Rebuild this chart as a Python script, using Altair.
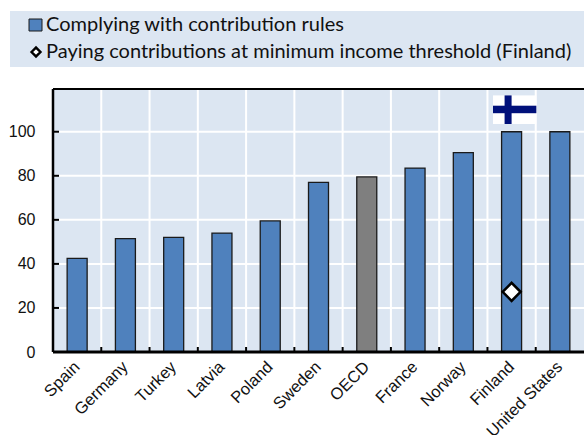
import altair as alt
import pandas as pd

countries = ["Spain", "Germany", "Turkey", "Latvia", "Poland", "Sweden", "OECD",
             "France", "Norway", "Finland", "United States"]
complying = [42.5, 51.5, 52, 54, 59.5, 77, 79.5, 83.5, 90.5, 100, 100]
kinds = ["country"] * 6 + ["average"] + ["country"] * 4
threshold_country = ["Finland"]
threshold_value = [27.3]
y_ticks = [0, 20, 40, 60, 80, 100]
legend_labels = ["Complying with contribution rules",
                 "Paying contributions at minimum income threshold (Finland)"]

FLAG = ("data:image/svg+xml;utf8,"
        "<svg xmlns='http://www.w3.org/2000/svg' width='44' height='29' viewBox='0 0 44 29'>"
        "<rect width='44' height='29' fill='white'/>"
        "<rect x='12' width='7' height='29' fill='%2300107a'/>"
        "<rect y='10.5' width='44' height='7.5' fill='%2300107a'/></svg>")

W, H = 531, 263
LABEL_FONT = "Liberation Sans"
LEGEND_FONT = "Lato"

bars_df = pd.DataFrame({"country": countries, "value": complying, "kind": kinds})
x_scale = alt.Scale(domain=countries, paddingInner=0.0, paddingOuter=0.0)
y_scale = alt.Scale(domain=[0, 119.4], nice=False)
x_axis = alt.Axis(title=None, labelAngle=-45, labelFontSize=16.5, labelFont=LABEL_FONT,
                  labelColor="#111111", labelAlign="right", labelBaseline="middle",
                  tickSize=0, domain=False, grid=False, labelPadding=12, labelOverlap=False,
                  labelLimit=200, labelBound=False, labelFlush=False)
y_axis = alt.Axis(title=None, values=y_ticks, labelFontSize=16, labelFont=LABEL_FONT,
                  labelColor="#111111", tickSize=0, domain=False, grid=False, labelPadding=18)

grid_v = alt.Chart(pd.DataFrame({"country": countries[1:]})).mark_rule(
    color="white", strokeWidth=2, xOffset=-W / 22).encode(
    x=alt.X("country:N", scale=x_scale, axis=x_axis))

grid_h = alt.Chart(pd.DataFrame({"v": y_ticks[1:]})).mark_rule(color="white", strokeWidth=2).encode(
    y=alt.Y("v:Q", scale=y_scale, axis=y_axis))

bars = alt.Chart(bars_df).mark_bar(width=20, stroke="#1a1a1a", strokeWidth=1.3).encode(
    x=alt.X("country:N", scale=x_scale),
    y=alt.Y("value:Q", scale=y_scale),
    color=alt.Color("kind:N", scale=alt.Scale(domain=["country", "average"], range=["#4f81bd", "#7f7f7f"]),
                    legend=None),
)

diamond = alt.Chart(pd.DataFrame({"country": threshold_country, "value": threshold_value})).mark_point(
    shape="diamond", size=320, filled=True, fill="white", stroke="black", strokeWidth=2.6, opacity=1).encode(
    x=alt.X("country:N", scale=x_scale), y=alt.Y("value:Q", scale=y_scale))

flag = alt.Chart(pd.DataFrame({"country": threshold_country, "value": [110], "url": [FLAG]})).mark_image(
    width=44, height=29, xOffset=3).encode(
    x=alt.X("country:N", scale=x_scale), y=alt.Y("value:Q", scale=y_scale), url="url:N")

# Frame: heavy left and bottom rules, thin top rule
axis_lines = alt.layer(
    alt.Chart(pd.DataFrame({"a": [0]})).mark_rule(color="black", strokeWidth=3).encode(
        x=alt.value(0), x2=alt.value(W), y=alt.value(H)),
    alt.Chart(pd.DataFrame({"a": [0]})).mark_rule(color="black", strokeWidth=2).encode(
        x=alt.value(0), x2=alt.value(W), y=alt.value(0)),
    alt.Chart(pd.DataFrame({"a": [0]})).mark_rule(color="black", strokeWidth=2.5).encode(
        x=alt.value(0), y=alt.value(0), y2=alt.value(H)),
)

y_tick_marks = alt.Chart(pd.DataFrame({"v": y_ticks[1:]})).mark_rule(color="black", strokeWidth=2).encode(
    x=alt.value(0), x2=alt.value(6), y=alt.Y("v:Q", scale=y_scale))

x_tick_marks = alt.Chart(pd.DataFrame({"country": countries[1:]})).mark_rule(
    color="black", strokeWidth=2, xOffset=-W / 22).encode(
    x=alt.X("country:N", scale=x_scale), y=alt.value(H - 5), y2=alt.value(H))

# Legend banner above the plot
banner = alt.Chart(pd.DataFrame({"a": [0]})).mark_rect(color="#dce6f2").encode(
    x=alt.value(-43), x2=alt.value(W), y=alt.value(-78), y2=alt.value(-22))
swatch = alt.Chart(pd.DataFrame({"a": [0]})).mark_rect(color="#4f81bd", stroke="#1a1a1a", strokeWidth=1).encode(
    x=alt.value(-24), x2=alt.value(-11), y=alt.value(-70), y2=alt.value(-58))
legend_marker = alt.Chart(pd.DataFrame({"a": [0]})).mark_point(
    shape="diamond", size=80, filled=True, fill="white", stroke="black", strokeWidth=2.4, opacity=1).encode(
    x=alt.value(-17), y=alt.value(-37))
legend_text_1 = alt.Chart(pd.DataFrame({"t": [legend_labels[0]]})).mark_text(
    align="left", baseline="middle", fontSize=20, font=LEGEND_FONT, color="#111111").encode(
    x=alt.value(-7), y=alt.value(-64), text="t:N")
legend_text_2 = alt.Chart(pd.DataFrame({"t": [legend_labels[1]]})).mark_text(
    align="left", baseline="middle", fontSize=20, font=LEGEND_FONT, color="#111111").encode(
    x=alt.value(-7), y=alt.value(-37), text="t:N")

chart = alt.layer(
    grid_h, grid_v, bars, diamond, flag, x_tick_marks, y_tick_marks, axis_lines,
    banner, swatch, legend_marker, legend_text_1, legend_text_2,
).resolve_scale(x="shared", y="shared").properties(
    width=W, height=H, background="white",
    autosize=alt.AutoSizeParams(type="none"),
    padding={"left": 53, "top": 89, "right": 0, "bottom": 83},
).configure_view(fill="#dce6f2", stroke=None)

chart.save("out.html", embed_options={"renderer": "svg", "actions": False})
